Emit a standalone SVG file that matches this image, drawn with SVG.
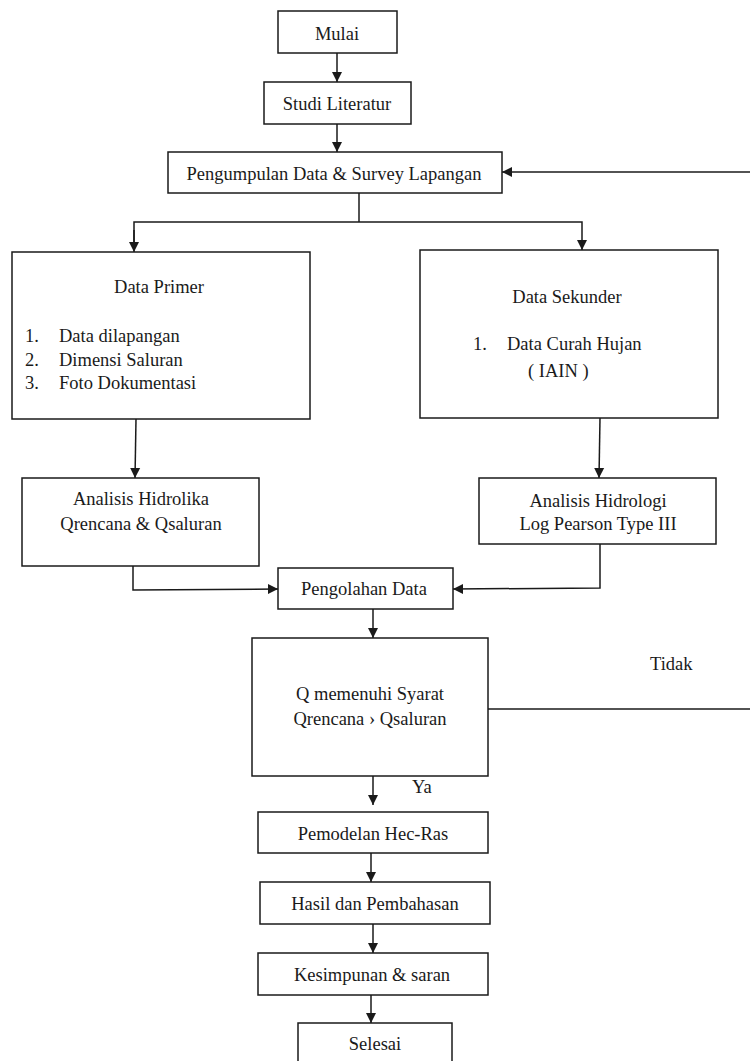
<svg xmlns="http://www.w3.org/2000/svg" width="750" height="1061" viewBox="0 0 750 1061">
<style>
.box{fill:#fff;stroke:#1a1a1a;stroke-width:1.5}
.t{font-family:'Liberation Serif','Times New Roman',serif;font-size:18.5px;fill:#1a1a1a}
.c{text-anchor:middle}
.ln{fill:none;stroke:#1a1a1a;stroke-width:1.5}
</style>
<defs>
<marker id="ah" markerUnits="userSpaceOnUse" markerWidth="10" markerHeight="11" viewBox="0 0 10 11" refX="10" refY="5.5" orient="auto">
<path d="M0,0.5 L10,5.5 L0,10.5 Z" fill="#1a1a1a"/>
</marker>
</defs>
<rect width="750" height="1061" fill="#fff"/>
<g id="connectors">
<line class="ln" x1="337" y1="53" x2="337" y2="82" marker-end="url(#ah)"/>
<line class="ln" x1="337" y1="124" x2="337" y2="152" marker-end="url(#ah)"/>
<line class="ln" x1="750" y1="172" x2="502" y2="172" marker-end="url(#ah)"/>
<polyline class="ln" points="359,193 359,222"/>
<polyline class="ln" points="134,250 134,222 582,222 582,250" marker-end="url(#ah)"/>
<line class="ln" x1="134" y1="230" x2="134" y2="252" marker-end="url(#ah)"/>
<line class="ln" x1="136" y1="419" x2="135" y2="478" marker-end="url(#ah)"/>
<line class="ln" x1="600" y1="418" x2="599" y2="478" marker-end="url(#ah)"/>
<polyline class="ln" points="133,566 133,590 278,589" marker-end="url(#ah)"/>
<polyline class="ln" points="600,544 600,588 453,589" marker-end="url(#ah)"/>
<line class="ln" x1="373" y1="609" x2="373" y2="638" marker-end="url(#ah)"/>
<line class="ln" x1="488" y1="709" x2="750" y2="709"/>
<line class="ln" x1="373" y1="776" x2="373" y2="805" marker-end="url(#ah)"/>
<line class="ln" x1="371" y1="853" x2="371" y2="882" marker-end="url(#ah)"/>
<line class="ln" x1="373" y1="924" x2="373" y2="953" marker-end="url(#ah)"/>
<line class="ln" x1="371" y1="995" x2="371" y2="1023" marker-end="url(#ah)"/>
<text class="t" x="650" y="670">Tidak</text>
<text class="t" x="412" y="793">Ya</text>
</g>
<g id="mulai"><rect class="box" x="278" y="11" width="119" height="42"/><text class="t c" x="337" y="40">Mulai</text></g>
<g id="studi"><rect class="box" x="264" y="82" width="147" height="42"/><text class="t c" x="337" y="110">Studi Literatur</text></g>
<g id="pengumpulan"><rect class="box" x="168" y="152" width="334" height="41"/><text class="t c" x="334" y="180">Pengumpulan Data &amp; Survey Lapangan</text></g>
<g id="primer"><rect class="box" x="12" y="252" width="298" height="167"/>
<text class="t c" x="159" y="293">Data Primer</text>
<text class="t" x="25" y="342">1.</text><text class="t" x="59" y="342">Data dilapangan</text>
<text class="t" x="25" y="366">2.</text><text class="t" x="59" y="366">Dimensi Saluran</text>
<text class="t" x="25" y="389">3.</text><text class="t" x="59" y="389">Foto Dokumentasi</text>
</g>
<g id="sekunder"><rect class="box" x="420" y="250" width="298" height="168"/>
<text class="t c" x="567" y="303">Data Sekunder</text>
<text class="t" x="473" y="350">1.</text><text class="t" x="507" y="350">Data Curah Hujan</text>
<text class="t" x="528" y="377">( IAIN )</text>
</g>
<g id="hidrolika"><rect class="box" x="22" y="478" width="237" height="88"/>
<text class="t c" x="141" y="505">Analisis Hidrolika</text>
<text class="t c" x="141" y="530">Qrencana &amp; Qsaluran</text>
</g>
<g id="hidrologi"><rect class="box" x="479" y="478" width="237" height="66"/>
<text class="t c" x="598" y="507">Analisis Hidrologi</text>
<text class="t c" x="598" y="530">Log Pearson Type III</text>
</g>
<g id="pengolahan"><rect class="box" x="278" y="568" width="175" height="41"/><text class="t c" x="364" y="595">Pengolahan Data</text></g>
<g id="syarat"><rect class="box" x="252" y="638" width="236" height="138"/>
<text class="t c" x="370" y="700">Q memenuhi Syarat</text>
<text class="t c" x="370" y="725">Qrencana › Qsaluran</text>
</g>
<g id="pemodelan"><rect class="box" x="258" y="812" width="230" height="41"/><text class="t c" x="373" y="840">Pemodelan Hec-Ras</text></g>
<g id="hasil"><rect class="box" x="260" y="882" width="230" height="42"/><text class="t c" x="375" y="910">Hasil dan Pembahasan</text></g>
<g id="kesimpulan"><rect class="box" x="258" y="953" width="230" height="42"/><text class="t c" x="372" y="981">Kesimpunan &amp; saran</text></g>
<g id="selesai"><rect class="box" x="298" y="1023" width="154" height="50"/><text class="t c" x="375" y="1050">Selesai</text></g>
</svg>
